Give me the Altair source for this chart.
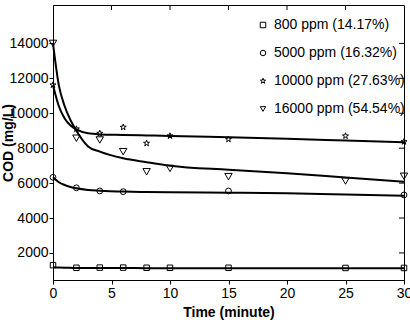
import altair as alt
import pandas as pd

series = ["800 ppm (14.17%)", "5000 ppm (16.32%)", "10000 ppm (27.63%)", "16000 ppm (54.54%)"]

# measured points
t_800 = [0, 2, 4, 6, 8, 10, 15, 25, 30]
cod_800 = [1300, 1150, 1160, 1160, 1150, 1150, 1150, 1140, 1140]
t_5000 = [0, 2, 4, 6, 15, 30]
cod_5000 = [6330, 5730, 5550, 5510, 5550, 5320]
t_10000 = [0, 2, 4, 6, 8, 10, 15, 25, 30]
cod_10000 = [11620, 9100, 8850, 9200, 8280, 8700, 8510, 8700, 8370]
t_16000 = [0, 2, 4, 6, 8, 10, 15, 25, 30]
cod_16000 = [14000, 8570, 8470, 7800, 6650, 6840, 6370, 6120, 6390]

# fitted curves
fit_t = [0, 0.5, 1, 1.5, 2, 3, 4, 6, 8, 10, 15, 20, 25, 30]
fit_800 = [1180, 1160, 1150, 1145, 1140, 1140, 1135, 1135, 1130, 1130, 1125, 1125, 1120, 1120]
fit_5000 = [6330, 6050, 5890, 5780, 5700, 5605, 5565, 5515, 5490, 5470, 5450, 5420, 5350, 5270]
fit_10000 = [11600, 10400, 9700, 9300, 9080, 8850, 8790, 8760, 8730, 8700, 8620, 8540, 8440, 8340]
fit_16000 = [14000, 11600, 10400, 9600, 9000, 8100, 7800, 7420, 7200, 7000, 6760, 6560, 6320, 6080]

y_ticks = [2000, 4000, 6000, 8000, 10000, 12000, 14000]
x_ticks = [0, 5, 10, 15, 20, 25, 30]

shapes = [
    "square",
    "circle",
    "M0,-1L0.235,-0.324L0.951,-0.309L0.38,0.124L0.588,0.809L0,0.4L-0.588,0.809L-0.38,0.124L-0.951,-0.309L-0.235,-0.324Z",
    "triangle-down",
]
sizes = [30, 34, 40, 55]

pts = []
for s, sz, ts, vs in zip(series, sizes, [t_800, t_5000, t_10000, t_16000], [cod_800, cod_5000, cod_10000, cod_16000]):
    for t, v in zip(ts, vs):
        pts.append({"series": s, "t": t, "cod": v, "sz": sz})
pts = pd.DataFrame(pts)

fits = []
for s, vs in zip(series, [fit_800, fit_5000, fit_10000, fit_16000]):
    for t, v in zip(fit_t, vs):
        fits.append({"series": s, "t": t, "cod": v})
fits = pd.DataFrame(fits)

W, H = 351, 275
xs = alt.Scale(domain=[0, 30], nice=False)
ys = alt.Scale(domain=[450, 16200], nice=False)

x_axis = alt.Axis(values=x_ticks, title="Time (minute)", grid=False, tickSize=4,
                  labelPadding=2, labelFlush=False, titlePadding=5, format="d")
y_axis = alt.Axis(values=y_ticks, title="COD (mg/L)", grid=False, tickSize=4,
                  labelPadding=1, titleX=-45, titleBaseline="middle", format="d")

lines = alt.Chart(fits).mark_line(color="black", strokeWidth=2, interpolate="monotone").encode(
    x=alt.X("t:Q", scale=xs, axis=x_axis),
    y=alt.Y("cod:Q", scale=ys, axis=y_axis),
    detail="series:N",
)

points = alt.Chart(pts).mark_point(filled=False, color="black", strokeWidth=1, opacity=1).encode(
    x=alt.X("t:Q", scale=xs),
    y=alt.Y("cod:Q", scale=ys),
    shape=alt.Shape("series:N", scale=alt.Scale(domain=series, range=shapes),
                    legend=alt.Legend(title=None, orient="none", legendX=203, legendY=13,
                                      labelFontSize=14, labelFont="Liberation Sans",
                                      labelColor="black",
                                      symbolSize=30, symbolStrokeColor="black",
                                      symbolFillColor="transparent", symbolStrokeWidth=1,
                                      rowPadding=14, labelOffset=4, labelLimit=300)),
    size=alt.Size("sz:Q", scale=None),
)

top_ticks = alt.Chart(pd.DataFrame({"t": x_ticks[1:-1]})).mark_rule(color="black", strokeWidth=1).encode(
    x=alt.X("t:Q", scale=xs), y=alt.value(0), y2=alt.value(5)
)
right_ticks = alt.Chart(pd.DataFrame({"cod": y_ticks})).mark_rule(color="black", strokeWidth=1).encode(
    y=alt.Y("cod:Q", scale=ys), x=alt.value(W), x2=alt.value(W - 5)
)

chart = alt.layer(lines, points, top_ticks, right_ticks).properties(
    width=W, height=H,
    padding={"left": 53, "top": 5, "right": 6, "bottom": 40},
    autosize=alt.AutoSizeParams(type="none"),
    background="white",
).configure_view(stroke="black", strokeWidth=1).configure_axis(
    labelFont="Liberation Sans", labelFontSize=14, labelColor="black",
    titleFont="Liberation Sans", titleFontSize=14, titleFontWeight="bold", titleColor="black",
    domainColor="black", tickColor="black",
)

chart.save("out.html", embed_options={"renderer": "svg", "actions": False})
